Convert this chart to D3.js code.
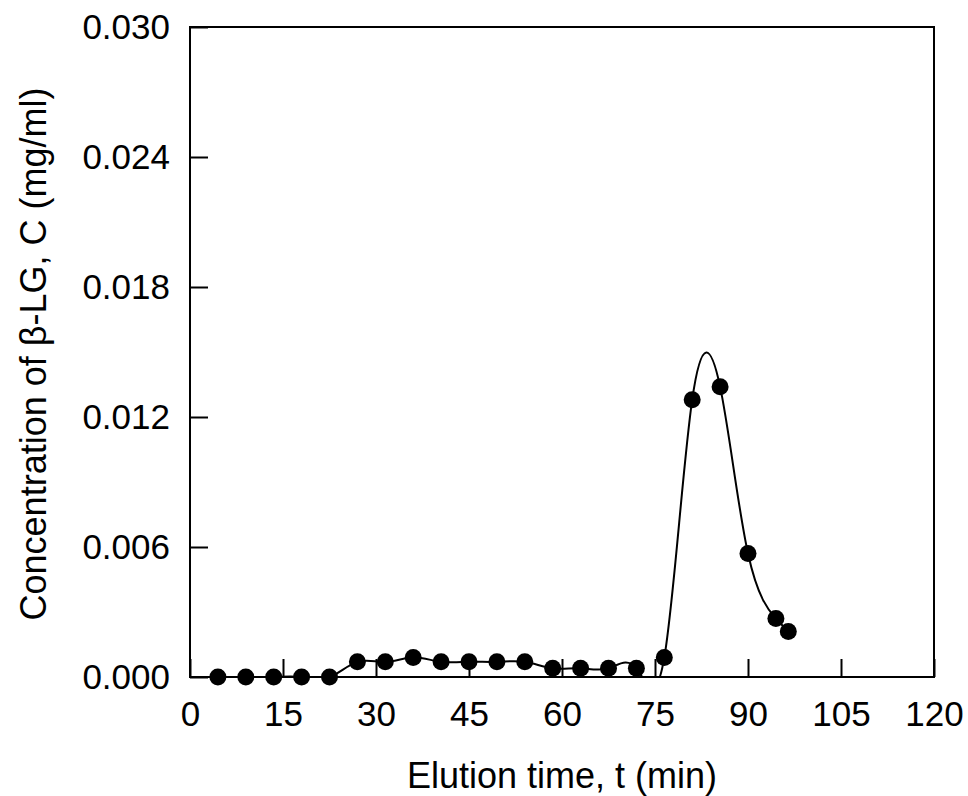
<!DOCTYPE html>
<html>
<head>
<meta charset="utf-8">
<script src="https://cdn.jsdelivr.net/npm/d3@7"></script>
<style>
  html, body { margin: 0; padding: 0; background: #fff; }
  svg text { font-family: "Liberation Sans", Arial, Helvetica, sans-serif; fill: #000; }
</style>
</head>
<body>
<svg id="chart" width="968" height="796"></svg>
<script>
// Elution profile of beta-lactoglobulin
const elutionTime = [4.5, 9, 13.5, 18, 22.5, 27, 31.5, 36, 40.5, 45, 49.5, 54, 58.5, 63, 67.5, 72, 76.5, 81, 85.5, 90, 94.5, 96.5];
const concentration = [0, 0, 0, 0, 0, 0.0007, 0.0007, 0.0009, 0.0007, 0.0007, 0.0007, 0.0007, 0.0004, 0.0004, 0.0004, 0.0004, 0.0009, 0.0128, 0.0134, 0.0057, 0.0027, 0.0021];
const xTicks = [0, 15, 30, 45, 60, 75, 90, 105, 120];
const yTicks = [0, 0.006, 0.012, 0.018, 0.024, 0.030];

const svg = d3.select("#chart");
const margin = { left: 190, right: 34, top: 27, bottom: 119 };
const W = 968, H = 796;

const x = d3.scaleLinear().domain([0, 120]).range([margin.left, W - margin.right]);
const y = d3.scaleLinear().domain([0, 0.030]).range([H - margin.bottom, margin.top]);

const data = elutionTime.map((t, i) => ({ t, c: concentration[i] }));

svg.append("clipPath").attr("id", "plotClip")
  .append("rect")
  .attr("x", x(0)).attr("y", y(0.030))
  .attr("width", x(120) - x(0)).attr("height", y(0) - y(0.030));

// fitted curve
const line = d3.line().x(d => x(d.t)).y(d => y(d.c)).curve(d3.curveNatural);
svg.append("path")
  .datum(data)
  .attr("clip-path", "url(#plotClip)")
  .attr("d", line)
  .attr("fill", "none")
  .attr("stroke", "#000")
  .attr("stroke-width", 2);

// axes with inward ticks
const xAxis = svg.append("g")
  .attr("transform", `translate(0,${y(0)})`)
  .call(d3.axisBottom(x).tickValues(xTicks).tickSize(-18).tickPadding(24).tickFormat(d3.format("d")));
const yAxis = svg.append("g")
  .attr("transform", `translate(${x(0)},0)`)
  .call(d3.axisLeft(y).tickValues(yTicks).tickSize(-18).tickPadding(20).tickFormat(d3.format(".3f")));

[xAxis, yAxis].forEach(g => {
  g.select(".domain").remove();
  g.selectAll(".tick line").attr("stroke", "#000").attr("stroke-width", 2);
  g.selectAll(".tick text").attr("font-size", 35).attr("fill", "#000")
    .attr("font-family", "'Liberation Sans', Arial, sans-serif");
});

// plot frame
svg.append("rect")
  .attr("x", x(0)).attr("y", y(0.030))
  .attr("width", x(120) - x(0)).attr("height", y(0) - y(0.030))
  .attr("fill", "none").attr("stroke", "#000").attr("stroke-width", 2);

// data points
svg.append("g").selectAll("circle")
  .data(data).join("circle")
  .attr("cx", d => x(d.t)).attr("cy", d => y(d.c))
  .attr("r", 8.5).attr("fill", "#000");

// axis titles
svg.append("text")
  .attr("x", (x(0) + x(120)) / 2).attr("y", 788)
  .attr("text-anchor", "middle").attr("font-size", 36)
  .text("Elution time, t (min)");

svg.append("text")
  .attr("transform", `translate(46,${(y(0) + y(0.030)) / 2 + 2}) rotate(-90)`)
  .attr("text-anchor", "middle").attr("font-size", 36)
  .text("Concentration of β-LG, C (mg/ml)");
</script>
</body>
</html>
